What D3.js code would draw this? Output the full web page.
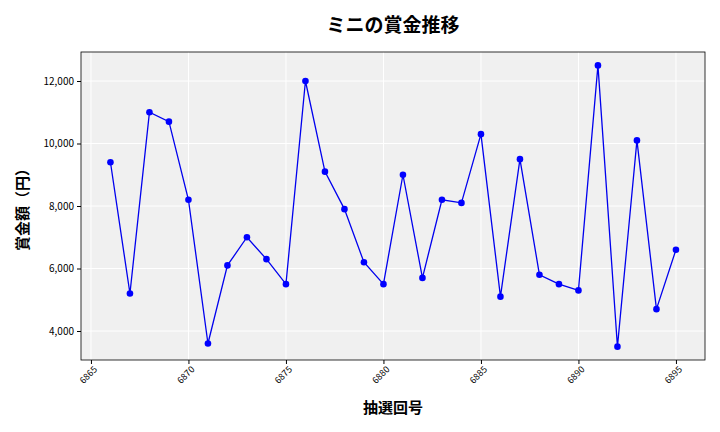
<!DOCTYPE html>
<html><head><meta charset="utf-8">
<script src="https://cdn.jsdelivr.net/npm/d3@7"></script>
<style>body{margin:0;background:#fff}</style></head>
<body><svg id="c" width="720" height="432"></svg>
<script>
const draws=[6866,6867,6868,6869,6870,6871,6872,6873,6874,6875,6876,6877,6878,6879,6880,6881,6882,6883,6884,6885,6886,6887,6888,6889,6890,6891,6892,6893,6894,6895];
const prizes=[9400,5200,11000,10700,8200,3600,6100,7000,6300,5500,12000,9100,7900,6200,5500,9000,5700,8200,8100,10300,5100,9500,5800,5500,5300,12500,3500,10100,4700,6600];
const xTicks=[6865,6870,6875,6880,6885,6890,6895];
const yTicks=[4000,6000,8000,10000,12000];
const font="'Noto Sans CJK JP','Noto Sans',sans-serif";
const svg=d3.select("#c");
const L=81,R=705,T=52,B=360;
const x=d3.scaleLinear().domain([6864.49,6896.49]).range([L,R]);
const y=d3.scaleLinear().domain([3072,12928]).range([B,T]);
svg.append("rect").attr("x",L).attr("y",T).attr("width",R-L).attr("height",B-T).attr("fill","#f0f0f0");
const g=svg.append("g");
xTicks.forEach(t=>g.append("line").attr("x1",x(t)).attr("x2",x(t)).attr("y1",T).attr("y2",B).attr("stroke","#fff").attr("stroke-width",1));
yTicks.forEach(t=>g.append("line").attr("x1",L).attr("x2",R).attr("y1",y(t)).attr("y2",y(t)).attr("stroke","#fff").attr("stroke-width",1));
svg.append("rect").attr("x",L).attr("y",T).attr("width",R-L).attr("height",B-T).attr("fill","none").attr("stroke","#000").attr("stroke-width",0.8);
const xa=svg.append("g").attr("transform",`translate(0,${B})`).call(d3.axisBottom(x).tickValues(xTicks).tickFormat(d3.format("d")).tickSize(4));
xa.select(".domain").remove();
xa.selectAll("text").attr("font-size",9).attr("font-family",font).attr("transform","rotate(-45)").attr("text-anchor","end").attr("dx","-0.3em").attr("dy","0.5em");
const ya=svg.append("g").attr("transform",`translate(${L},0)`).call(d3.axisLeft(y).tickValues(yTicks).tickFormat(d3.format(",")).tickSize(4));
ya.select(".domain").remove();
ya.selectAll("text").attr("font-size",10).attr("font-family",font);
const line=d3.line().x((d,i)=>x(draws[i])).y(d=>y(d));
svg.append("path").datum(prizes).attr("d",line).attr("fill","none").attr("stroke","#0000ee").attr("stroke-width",1.3);
svg.selectAll("circle.p").data(prizes).join("circle").attr("cx",(d,i)=>x(draws[i])).attr("cy",d=>y(d)).attr("r",3.3).attr("fill","#0000ff");
svg.append("text").attr("x",393).attr("y",32).attr("text-anchor","middle").attr("font-size",19).attr("font-weight","bold").attr("font-family",font).text("ミニの賞金推移");
svg.append("text").attr("x",393).attr("y",413).attr("text-anchor","middle").attr("font-size",15).attr("font-weight","bold").attr("font-family",font).text("抽選回号");
svg.append("text").attr("transform","translate(28,206) rotate(-90)").attr("text-anchor","middle").attr("font-size",15).attr("font-weight","bold").attr("font-family",font).text("賞金額（円）");
</script></body></html>
